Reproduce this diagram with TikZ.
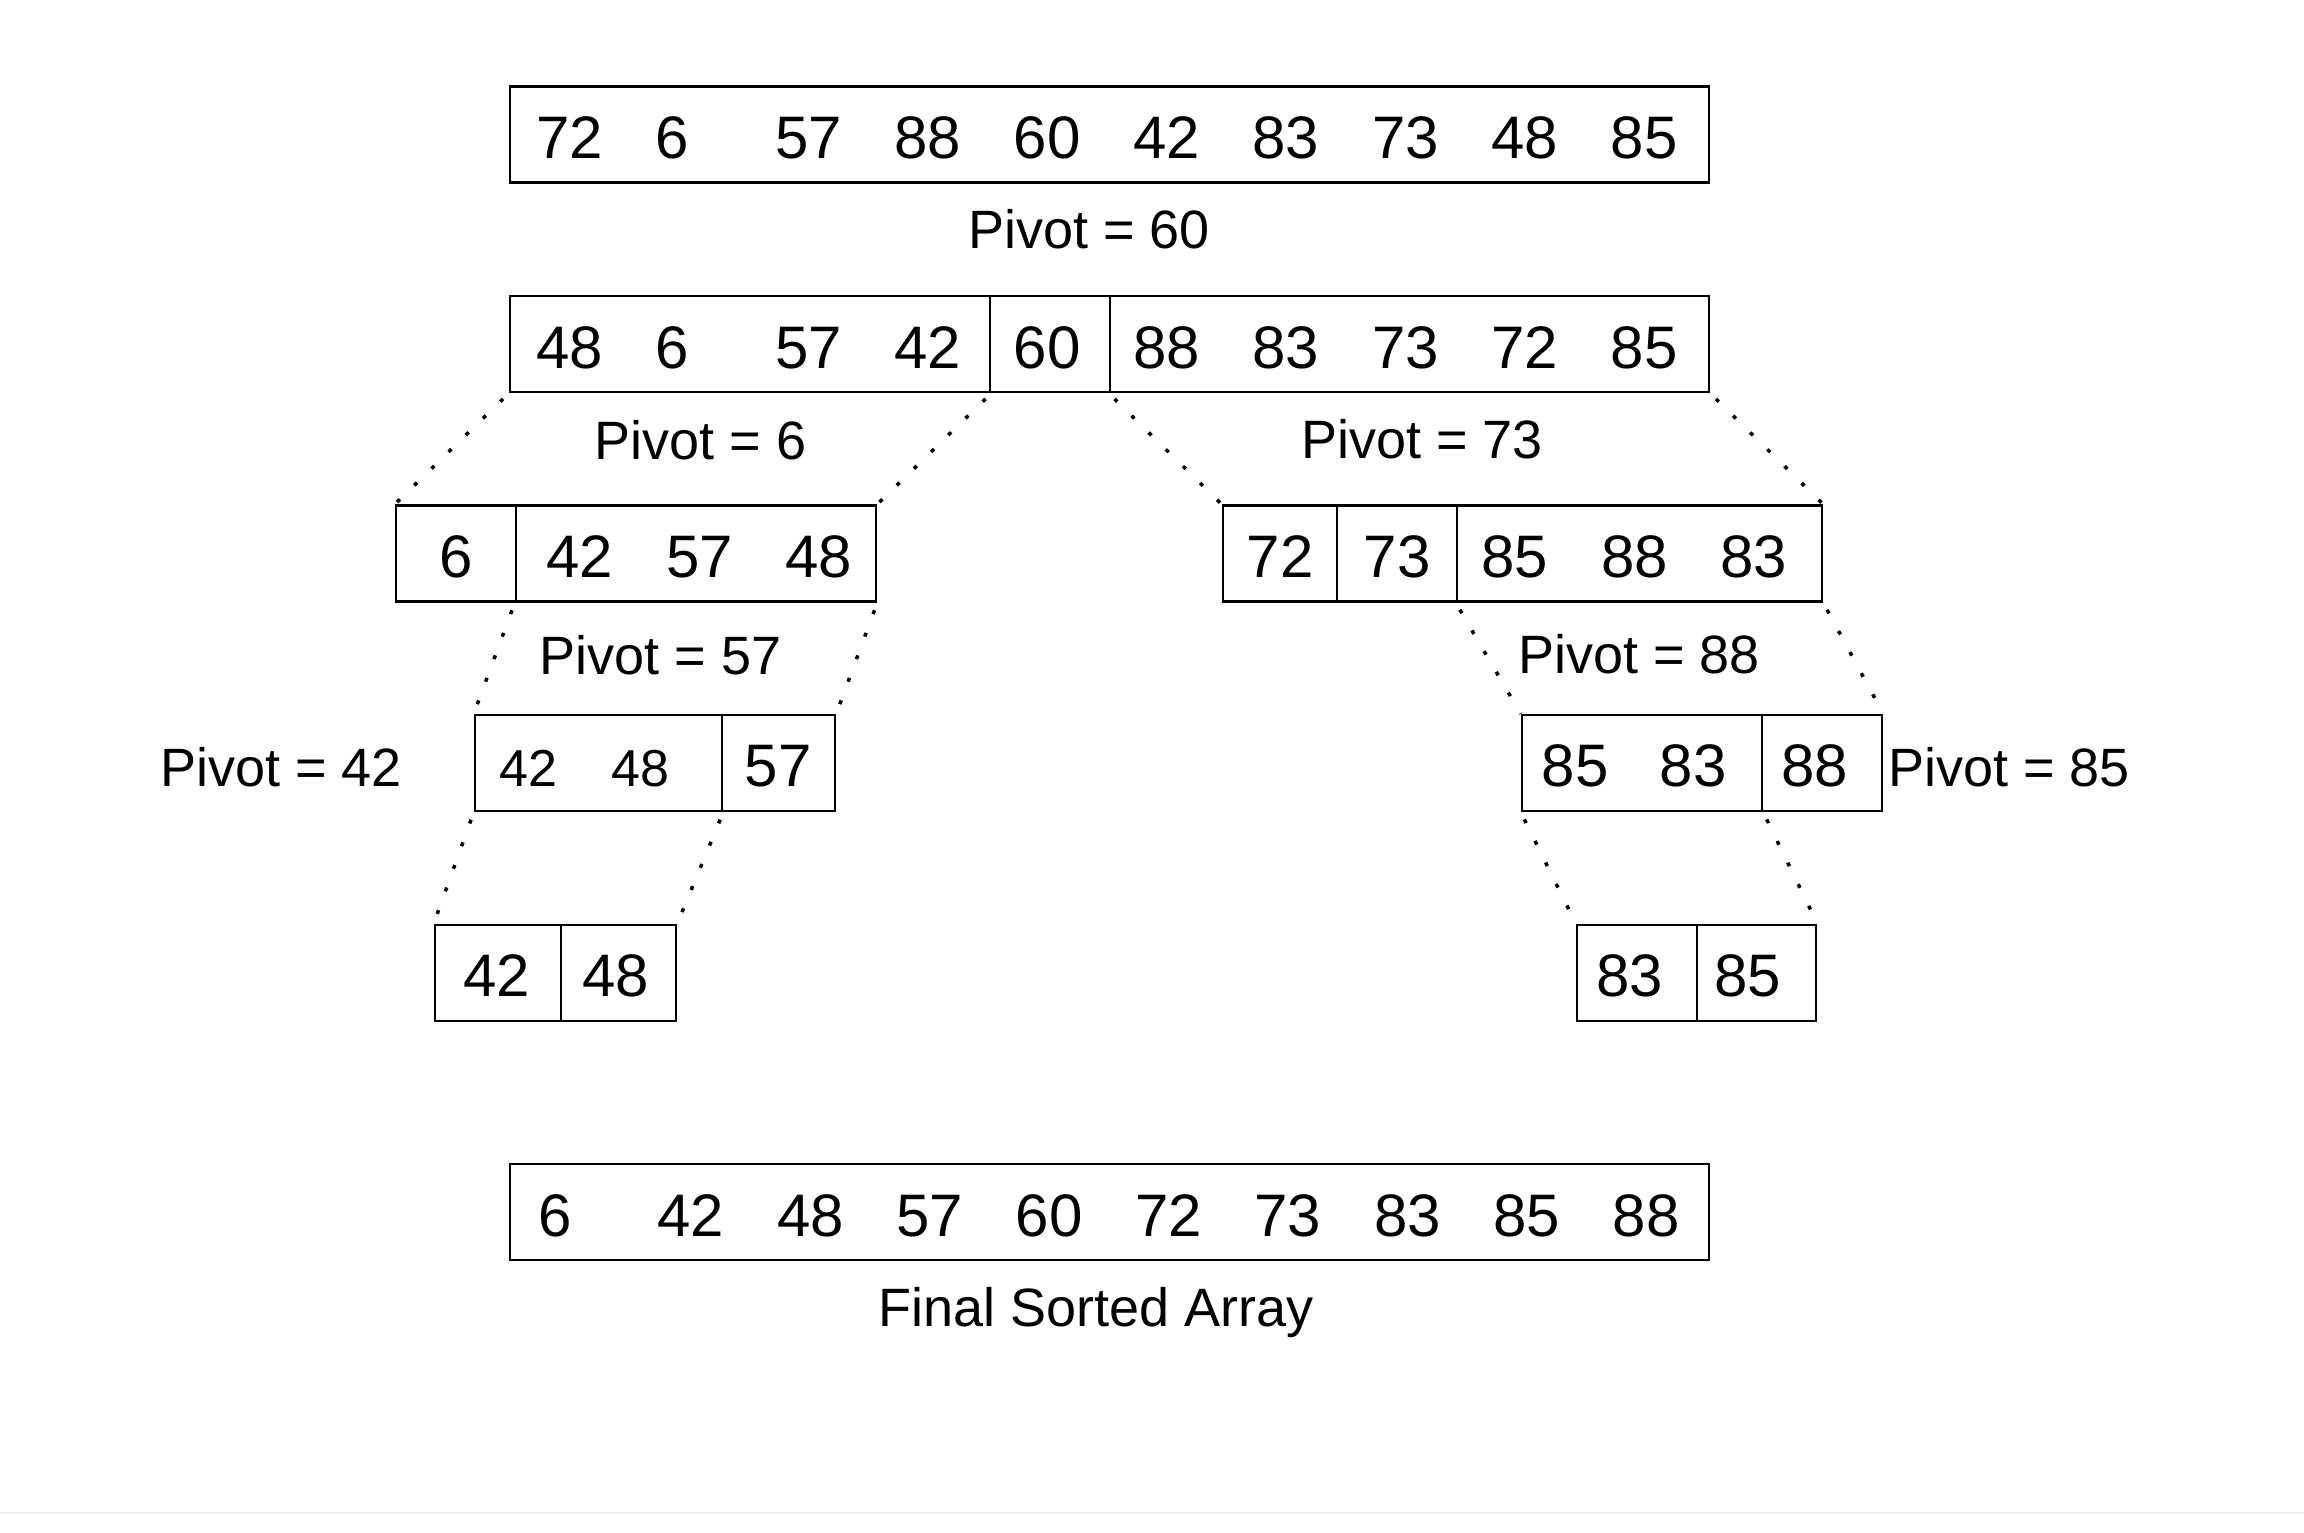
\documentclass[tikz,border=0pt]{standalone}
\usepackage{fontspec}
\newfontfamily\lib{Liberation Sans}
\begin{document}
\begin{tikzpicture}[x=1pt,y=-1pt,
  cell/.style={draw, line width=2.5pt, rectangle, inner sep=0pt, minimum height=96pt},
  num/.style={font=\lib\fontsize{60}{60}\selectfont, anchor=base west, inner sep=0pt},
  numc/.style={font=\lib\fontsize{60}{60}\selectfont, anchor=base, inner sep=0pt},
  nums/.style={font=\lib\fontsize{52}{52}\selectfont, anchor=base west, inner sep=0pt},
  lbl/.style={font=\lib\fontsize{54}{54}\selectfont, anchor=base, inner sep=0pt},
  link/.style={line width=3.5pt, dash pattern=on 4pt off 20pt, dash phase=-8pt}]
\useasboundingbox (0,0) rectangle (2304,1533);
\fill[white] (0,0) rectangle (2304,1533);
\draw[line width=2.5pt, gray!12] (0,1513) -- (2304,1513);

% row 1
\node[cell, minimum width=1199pt] (r1) at (1109.5,134.7) {};
\foreach \v [count=\i from 0] in {72,6,57,88,60,42,83,73,48,85}
  \node[num] (r1n\i) at ({536+119.4*\i},158.2) {\v};
\node[lbl] (p60) at (1089,248.6) {Pivot = 60};

% row 2
\node[cell, minimum width=480pt] (r2a) at (750,344) {};
\node[cell, minimum width=120pt] (r2b) at (1050,344) {};
\node[cell, minimum width=599pt] (r2c) at (1409.5,344) {};
\foreach \v [count=\i from 0] in {48,6,57,42,60,88,83,73,72,85}
  \node[num] (r2n\i) at ({536+119.4*\i},368) {\v};
\node[lbl] (p6) at (700.5,459) {Pivot = 6};
\node[lbl] (p73) at (1422,458.4) {Pivot = 73};

% row 3
\node[cell, minimum width=120pt] (r3a) at (456,553.6) {};
\node[cell, minimum width=360pt] (r3b) at (696,553.6) {};
\node[cell, minimum width=114pt] (r3c) at (1280,553.6) {};
\node[cell, minimum width=120pt] (r3d) at (1397,553.6) {};
\node[cell, minimum width=365pt] (r3e) at (1639.5,553.6) {};
\node[numc] (r3n0) at (456,577) {6};
\node[num] (r3n1) at (546,577) {42};
\node[num] (r3n2) at (666,577) {57};
\node[num] (r3n3) at (785,577) {48};
\node[numc] (r3n4) at (1280,577) {72};
\node[numc] (r3n5) at (1397,577) {73};
\node[num] (r3n6) at (1481,577) {85};
\node[num] (r3n7) at (1601,577) {88};
\node[num] (r3n8) at (1720,577) {83};
\node[lbl] (p57) at (660.5,674.6) {Pivot = 57};
\node[lbl] (p88) at (1639,673.6) {Pivot = 88};

% row 4
\node[cell, minimum width=247pt] (r4a) at (598.5,763) {};
\node[cell, minimum width=113pt] (r4b) at (778.5,763) {};
\node[cell, minimum width=240pt] (r4c) at (1642,763) {};
\node[cell, minimum width=120pt] (r4d) at (1822,763) {};
\node[nums] (r4n0) at (499,786.4) {42};
\node[nums] (r4n1) at (611,786.4) {48};
\node[numc] (r4n2) at (778,786.4) {57};
\node[num] (r4n3) at (1541.5,786.4) {85};
\node[num] (r4n4) at (1659.5,786.4) {83};
\node[num] (r4n5) at (1781,786.4) {88};
\node[lbl] (p42) at (281,786.4) {Pivot = 42};
\node[lbl] (p85) at (2009,786.6) {Pivot = 85};

% row 5
\node[cell, minimum width=126pt] (r5a) at (498,972.8) {};
\node[cell, minimum width=115pt] (r5b) at (618.5,972.8) {};
\node[cell, minimum width=120pt] (r5c) at (1637,972.8) {};
\node[cell, minimum width=119pt] (r5d) at (1756.5,972.8) {};
\node[numc] (r5n0) at (497,996) {42};
\node[numc] (r5n1) at (616,996) {48};
\node[num] (r5n2) at (1596,996) {83};
\node[num] (r5n3) at (1714,996) {85};

% final row
\node[cell, minimum width=1199pt] (fin) at (1109.5,1212) {};
\foreach \v [count=\i from 0] in {6,42,48,57,60,72,73,83,85,88}
  \node[num] (fn\i) at ({538+119.4*\i},1236.7) {\v};
\node[lbl] (final) at (1096,1326) {Final Sorted Array};

% dotted connectors
\draw[link] (r2a.south west) -- (r3a.north west);
\draw[link] (r2a.south east) -- (r3b.north east);
\draw[link] (r2c.south west) -- (r3c.north west);
\draw[link] (r2c.south east) -- (r3e.north east);
\draw[link] (r3b.south west) -- (r4a.north west);
\draw[link] (r3b.south east) -- (r4b.north east);
\draw[link] (r3e.south west) -- (r4c.north west);
\draw[link] (r3e.south east) -- (r4d.north east);
\draw[link] (r4a.south west) -- (r5a.north west);
\draw[link] (r4a.south east) -- (r5b.north east);
\draw[link] (r4c.south west) -- (r5c.north west);
\draw[link] (r4c.south east) -- (r5d.north east);
\end{tikzpicture}
\end{document}
